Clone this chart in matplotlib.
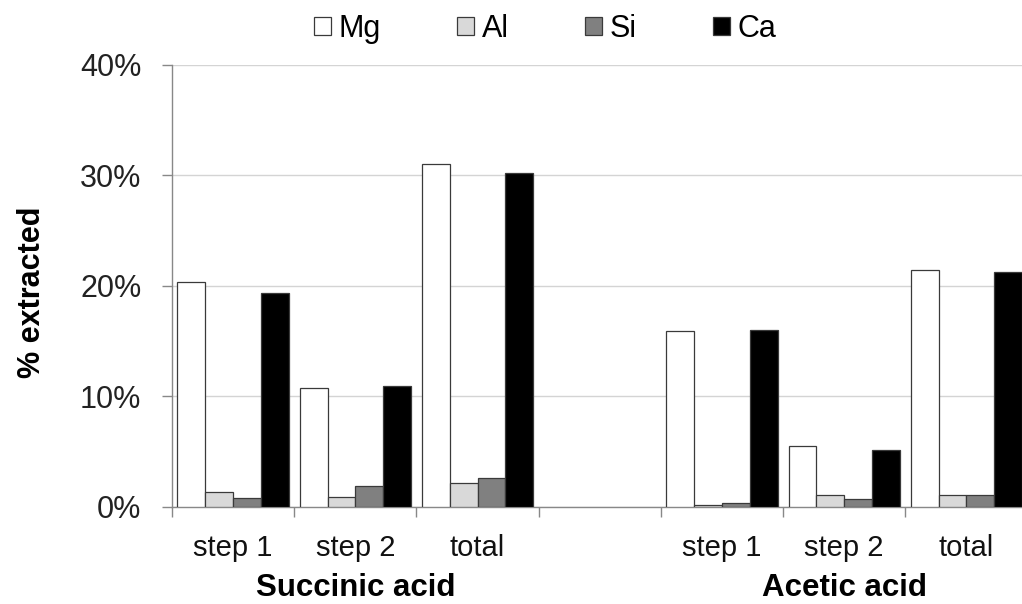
import numpy as np
import matplotlib
matplotlib.use("Agg")
import matplotlib.pyplot as plt
from matplotlib.patches import Patch

plt.rcParams['font.family'] = ['Liberation Sans', 'DejaVu Sans']

# data (percent extracted)
categories = ["step 1", "step 2", "total", "", "step 1", "step 2", "total"]
groups = ["Succinic acid", "Acetic acid"]
Mg = [20.3, 10.7, 31.0, np.nan, 15.9, 5.5, 21.4]
Al = [1.3, 0.9, 2.1, np.nan, 0.1, 1.0, 1.0]
Si = [0.8, 1.9, 2.6, np.nan, 0.35, 0.7, 1.0]
Ca = [19.3, 10.9, 30.2, np.nan, 16.0, 5.1, 21.2]

series = {"Mg": Mg, "Al": Al, "Si": Si, "Ca": Ca}
colors = {"Mg": "white", "Al": "#d9d9d9", "Si": "#808080", "Ca": "black"}

fig = plt.figure(figsize=(10.22, 6.04), dpi=100)
W, H = 1022, 604
left, right, bottom, top = 172, 1027.5, 506.5, 64.7
ax = fig.add_axes([left / W, 1 - bottom / H, (right - left) / W, (bottom - top) / H])

x = np.arange(len(categories))
w = 0.2275
for i, (name, vals) in enumerate(series.items()):
    ax.bar(x + (i - 1.5) * w, vals, width=w, color=colors[name],
           edgecolor="#3a3a3a", linewidth=0.9, label=name, zorder=3)

ax.set_xlim(-0.5, len(categories) - 0.5)
ax.set_ylim(0, 40)
ax.set_yticks([0, 10, 20, 30, 40])
ax.set_yticklabels(["0%", "10%", "20%", "30%", "40%"])
ax.yaxis.grid(True, color="#d4d4d4", linewidth=1.0, zorder=0)
ax.set_axisbelow(True)

ax.set_xticks(x)
ax.set_xticklabels(categories)
ax.set_xticks(np.arange(-0.5, len(categories)), minor=True)
ax.tick_params(axis="x", which="major", length=0, pad=20, labelsize=21,
               labelcolor="#111111")
ax.tick_params(axis="x", which="minor", length=7, color="#888888", width=1)
ax.tick_params(axis="y", length=7, color="#888888", width=1, pad=15, labelsize=22,
               labelcolor="#222222")

for s in ["top", "right"]:
    ax.spines[s].set_visible(False)
for s in ["left", "bottom"]:
    ax.spines[s].set_color("#888888")
    ax.spines[s].set_linewidth(1)

fig.text(32 / W, 1 - 292 / H, "% extracted", rotation=90, ha="center", va="center",
         fontsize=22, fontweight="bold")

centers = [1, 5]
for g, c in zip(groups, centers):
    px = ax.transData.transform((c, 0))[0]
    fig.text(px / W, 1 - 603 / H, g, ha="center", va="bottom",
             fontsize=22.5, fontweight="bold")

handles = [Patch(facecolor=colors[n], edgecolor="#3a3a3a", linewidth=0.9) for n in series]
fig.legend(handles, list(series.keys()), loc="center", ncol=4,
           bbox_to_anchor=(545 / W, 1 - 29 / H), frameon=False, fontsize=22,
           handlelength=0.55, handleheight=0.55, handletextpad=0.25, columnspacing=2.5)

fig.savefig("out.png", dpi=100)
